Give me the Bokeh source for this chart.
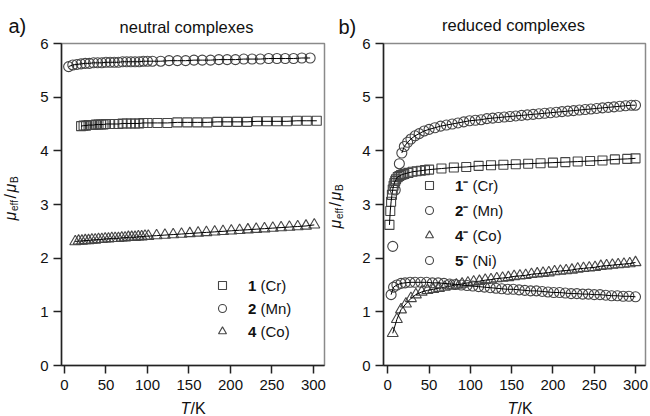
from bokeh.plotting import figure
from bokeh.models import Label, Legend, LegendItem, Range1d, FixedTicker, GridBox, Row
from bokeh.embed import file_html
from bokeh.resources import INLINE
import math

FONT = "Liberation Sans"

# ---------------- data: panel a) neutral complexes ----------------
T_cr = [20, 23, 26, 29, 32, 35, 38, 41, 44, 47, 50, 55, 60, 65, 70, 75, 80, 85, 90, 95, 100,
        112, 124, 136, 148, 160, 172, 184, 196, 208, 220, 232, 244, 256, 268, 280, 292, 304]
mu_cr = [4.46, 4.47, 4.47, 4.48, 4.48, 4.48, 4.49, 4.49, 4.49, 4.49, 4.50, 4.50, 4.50, 4.50, 4.51,
         4.51, 4.51, 4.51, 4.51, 4.52, 4.52, 4.52, 4.52, 4.53, 4.53, 4.53, 4.53, 4.54, 4.54, 4.54,
         4.54, 4.55, 4.55, 4.55, 4.55, 4.56, 4.56, 4.56]

T_mn = [5, 10, 15, 20, 25, 30, 35, 40, 45, 50, 55, 60, 65, 70, 75, 80, 85, 90, 95, 100,
        106, 116, 126, 136, 146, 156, 166, 176, 186, 196, 206, 216, 226, 236, 246, 256, 266, 276, 286, 296]
mu_mn = [5.57, 5.60, 5.61, 5.62, 5.63, 5.63, 5.64, 5.64, 5.64, 5.65, 5.65, 5.65, 5.65, 5.66, 5.66,
         5.66, 5.66, 5.66, 5.67, 5.67, 5.67, 5.67, 5.68, 5.68, 5.68, 5.69, 5.69, 5.69, 5.70, 5.70,
         5.70, 5.71, 5.71, 5.71, 5.72, 5.72, 5.72, 5.72, 5.73, 5.73]

T_co = [13, 17, 21, 25, 29, 33, 37, 41, 45, 49, 53, 57, 61, 65, 69, 73, 77, 81, 85, 89, 93, 97, 101,
        111, 121, 131, 141, 151, 161, 171, 181, 191, 201, 211, 221, 231, 241, 251, 261, 271, 281, 291, 301]
mu_co = [2.31, 2.32, 2.32, 2.33, 2.33, 2.34, 2.34, 2.35, 2.35, 2.36, 2.36, 2.37, 2.37, 2.37, 2.38,
         2.38, 2.39, 2.39, 2.39, 2.40, 2.40, 2.41, 2.41, 2.42, 2.43, 2.44, 2.45, 2.46, 2.47, 2.48,
         2.49, 2.50, 2.51, 2.52, 2.53, 2.54, 2.55, 2.56, 2.57, 2.58, 2.59, 2.60, 2.62]

# ---------------- data: panel b) reduced complexes ----------------
T_cr_r = [2, 3, 4, 5, 6, 7, 8, 9, 10, 12, 14, 16, 18, 20, 25, 30, 35, 40, 45, 50,
          65, 80, 95, 110, 125, 140, 155, 170, 185, 200, 215, 230, 245, 260, 275, 290, 300]
mu_cr_r = [2.62, 2.88, 3.05, 3.18, 3.28, 3.35, 3.40, 3.44, 3.47, 3.51, 3.53, 3.55, 3.56, 3.57,
           3.59, 3.61, 3.62, 3.63, 3.64, 3.65, 3.67, 3.69, 3.70, 3.72, 3.73, 3.74, 3.75, 3.76,
           3.77, 3.78, 3.79, 3.80, 3.81, 3.82, 3.84, 3.85, 3.86]

T_mn_r = [6, 9, 14, 17, 20, 24, 28, 33, 38, 44, 50, 57, 64, 71, 78, 85, 92, 99, 106, 113, 120, 127,
          134, 141, 148, 155, 162, 169, 176, 183, 190, 197, 204, 211, 218, 225, 232, 239, 246, 253,
          260, 267, 274, 281, 288, 295, 300]
mu_mn_r = [2.22, 3.27, 3.76, 3.96, 4.08, 4.16, 4.22, 4.28, 4.32, 4.37, 4.40, 4.43, 4.46, 4.48,
           4.50, 4.52, 4.54, 4.56, 4.57, 4.58, 4.60, 4.61, 4.62, 4.63, 4.64, 4.65, 4.66, 4.67,
           4.68, 4.69, 4.70, 4.71, 4.72, 4.73, 4.74, 4.75, 4.76, 4.77, 4.78, 4.79, 4.80, 4.81,
           4.82, 4.83, 4.84, 4.85, 4.85]

T_co_r = [6, 11, 16, 22, 28, 34, 41, 48, 55, 62, 69, 76, 83, 90, 97, 104, 111, 118, 125, 132, 139,
          146, 153, 160, 167, 174, 181, 188, 195, 202, 209, 216, 223, 230, 237, 244, 251, 258, 265,
          272, 279, 286, 293, 300]
mu_co_r = [0.60, 0.86, 1.04, 1.15, 1.25, 1.32, 1.37, 1.40, 1.42, 1.44, 1.46, 1.48, 1.50, 1.52,
           1.54, 1.56, 1.57, 1.59, 1.60, 1.62, 1.63, 1.64, 1.66, 1.67, 1.68, 1.70, 1.71, 1.72,
           1.73, 1.75, 1.76, 1.77, 1.78, 1.80, 1.81, 1.82, 1.83, 1.85, 1.86, 1.87, 1.88, 1.89,
           1.90, 1.92]

T_ni_r = [4, 7, 11, 16, 21, 27, 33, 40, 47, 54, 61, 68, 75, 82, 89, 96, 103, 110, 117, 124, 131,
          138, 145, 152, 159, 166, 173, 180, 187, 194, 201, 208, 215, 222, 229, 236, 243, 250, 257,
          264, 271, 278, 285, 292, 300]
mu_ni_r = [1.32, 1.46, 1.50, 1.53, 1.54, 1.55, 1.55, 1.55, 1.55, 1.54, 1.54, 1.53, 1.52, 1.51,
           1.50, 1.49, 1.48, 1.47, 1.46, 1.45, 1.44, 1.43, 1.42, 1.42, 1.41, 1.40, 1.39, 1.39,
           1.38, 1.37, 1.36, 1.36, 1.35, 1.34, 1.34, 1.33, 1.33, 1.32, 1.32, 1.31, 1.30, 1.30,
           1.29, 1.29, 1.28]

x_ticks = [0, 50, 100, 150, 200, 250, 300]
y_ticks = [0, 1, 2, 3, 4, 5, 6]

legend_a = ["1", "2", "4"]
legend_a_names = ["(Cr)", "(Mn)", "(Co)"]
legend_b = ["1\u207b", "2\u207b", "4\u207b", "5\u207b"]
legend_b_names = ["(Cr)", "(Mn)", "(Co)", "(Ni)"]

MARK = "#454545"
W, H = 650, 416


def make_fig(width, mb_left, mb_right, x_start, x_end):
    p = figure(width=width, height=H, output_backend="svg", toolbar_location=None,
               x_range=Range1d(x_start, x_end), y_range=Range1d(0, 6),
               min_border_left=mb_left, min_border_right=mb_right,
               min_border_top=43, min_border_bottom=51)
    p.xgrid.visible = False
    p.ygrid.visible = False
    p.xaxis.ticker = FixedTicker(ticks=x_ticks)
    p.yaxis.ticker = FixedTicker(ticks=y_ticks)
    p.axis.minor_tick_line_color = None
    p.axis.major_tick_in = 0
    p.axis.major_tick_out = 8
    p.axis.major_tick_line_width = 1.5
    p.axis.axis_line_width = 1.5
    p.axis.axis_line_color = "#222222"
    p.axis.major_tick_line_color = "#222222"
    p.axis.major_label_text_font = FONT
    p.axis.major_label_text_font_size = "15px"
    p.axis.major_label_text_color = "#111111"
    p.yaxis.major_label_standoff = 5
    p.xaxis.major_label_standoff = 6
    p.outline_line_color = "#8a8a8a"
    p.outline_line_width = 1.5
    p.background_fill_color = "white"
    p.border_fill_color = "white"
    return p


def txt(p, x, y, text, size, style="normal", angle=0.0, align="left", baseline="alphabetic"):
    p.add_layout(Label(x=x, y=y, x_units="screen", y_units="screen", text=text,
                       text_font=FONT, text_font_size=size, text_font_style=style,
                       angle=angle, text_align=align, text_baseline=baseline,
                       text_color="#111111"))


def series(p, T, mu, marker, size, line_from=0):
    r = p.scatter(T, mu, marker=marker, size=size, line_color=MARK, line_width=1.1,
                  fill_alpha=0)
    p.line(T[line_from:], mu[line_from:], line_color="black", line_width=1)
    return r


def make_legend(items, renderers, loc, spacing, standoff):
    return Legend(items=[LegendItem(label=s, renderers=[r]) for s, r in zip(items, renderers)],
                  location=loc, padding=0, spacing=spacing, margin=0,
                  glyph_width=20, glyph_height=20, label_height=20, label_standoff=standoff,
                  border_line_color=None, background_fill_alpha=0,
                  label_text_font=FONT, label_text_font_size="15px",
                  label_text_font_style="bold", label_text_color="#111111")


# ---------------- panel a ----------------
p1 = make_fig(330, 61, 6, -3.6, 313.3)
r1 = series(p1, T_cr, mu_cr, "square", 9)
r2 = series(p1, T_mn, mu_mn, "circle", 10)
r4 = series(p1, T_co, mu_co, "triangle", 11)
p1.add_layout(make_legend(legend_a, [r1, r2, r4], (151, 24), 3, 16))
for yy, s in zip([80, 57, 34], legend_a_names):
    txt(p1, 199, yy, s, "15px", baseline="middle")

# ---------------- panel b ----------------
p2 = make_fig(320, 53, 5, -5.2, 312.1)
s1 = series(p2, T_cr_r, mu_cr_r, "square", 9)
s2 = series(p2, T_mn_r, mu_mn_r, "circle", 10, line_from=3)
s4 = series(p2, T_co_r, mu_co_r, "triangle", 11)
s5 = series(p2, T_ni_r, mu_ni_r, "circle", 10)
p2.add_layout(make_legend(legend_b, [s1, s2, s4, s5], (36, 95), 5, 16))
for yy, s in zip([180, 155, 130, 105], legend_b_names):
    txt(p2, 89, yy, s, "15px", baseline="middle")

# ---------------- overlay for texts outside the plot frames ----------------
ov = figure(width=W, height=H, output_backend="svg", toolbar_location=None,
            x_range=Range1d(0, 1), y_range=Range1d(0, 1),
            x_axis_type=None, y_axis_type=None,
            min_border_left=0, min_border_right=0, min_border_top=0, min_border_bottom=0)
ov.title.visible = False
ov.outline_line_color = None
ov.background_fill_color = None
ov.border_fill_color = None


def T(X, Y, text, size, style="normal", angle=0.0, align="left", baseline="alphabetic"):
    # X, Y: page pixels from top-left
    txt(ov, X, H - Y, text, size, style, angle, align, baseline)


def ylabel(X, Y):
    a = math.pi / 2
    T(X, Y, "\u03bc", "16px", "italic", a)
    T(X + 4, Y - 9.5, "eff", "10px", "normal", a)
    T(X, Y - 22, "/", "16px", "normal", a)
    T(X, Y - 28, "\u03bc", "16px", "italic", a)
    T(X + 4, Y - 37.5, "B", "10px", "normal", a)


def xlabel(X, Y):
    T(X, Y, "T", "16px", "italic")
    T(X + 10, Y, "/K", "16px", "normal")


T(8, 25, "a)", "20px", baseline="middle")
T(186, 26, "neutral complexes", "16.5px", align="center", baseline="middle")
T(338, 26, "b)", "20px", baseline="middle")
T(513, 24, "reduced complexes", "16.5px", align="center", baseline="middle")
ylabel(10, 220)
ylabel(335, 228)
xlabel(180, 408)
xlabel(507, 408)

layout = GridBox(children=[(Row(children=[p1, p2]), 0, 0), (ov, 0, 0)])
open("out.html", "w").write(file_html(layout, INLINE))
